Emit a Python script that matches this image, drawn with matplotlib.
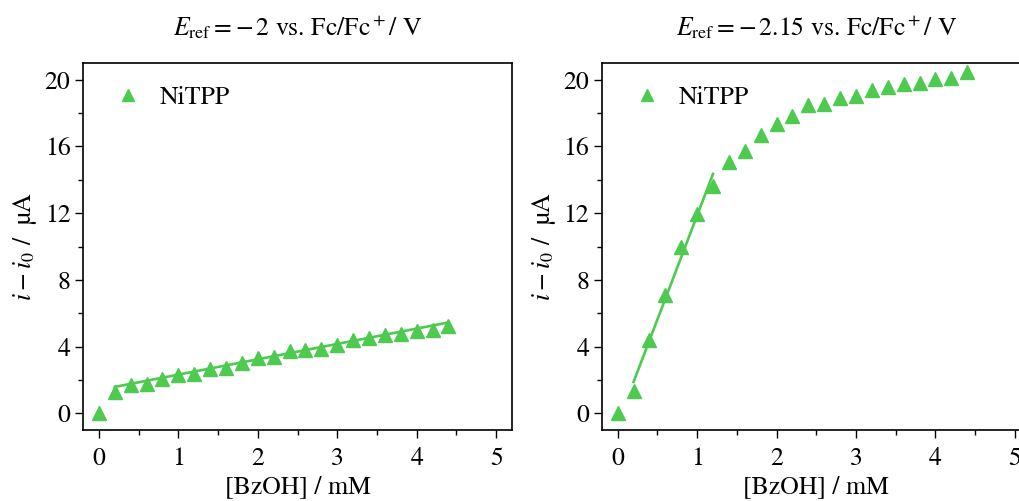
import numpy as np
import matplotlib
matplotlib.use("Agg")
import matplotlib.pyplot as plt
from matplotlib.ticker import MultipleLocator

plt.rcParams["font.family"] = ["STIXGeneral", "Liberation Serif", "DejaVu Serif"]
plt.rcParams["mathtext.fontset"] = "stix"

# [BzOH] / mM
conc = [0.0, 0.2, 0.4, 0.6, 0.8, 1.0, 1.2, 1.4, 1.6, 1.8, 2.0, 2.2,
        2.4, 2.6, 2.8, 3.0, 3.2, 3.4, 3.6, 3.8, 4.0, 4.2, 4.4]

# i - i0 / uA at E_ref = -2 V
current_a = [0.0, 1.28, 1.72, 1.74, 2.08, 2.28, 2.38, 2.68, 2.70, 3.04,
             3.31, 3.37, 3.73, 3.77, 3.83, 4.11, 4.37, 4.51, 4.67, 4.77,
             4.93, 4.97, 5.23]

# i - i0 / uA at E_ref = -2.15 V
current_b = [0.0, 1.32, 4.41, 7.10, 9.96, 11.96, 13.65, 15.05, 15.75, 16.70,
             17.35, 17.80, 18.48, 18.54, 18.90, 19.00, 19.40, 19.54, 19.74,
             19.80, 20.04, 20.10, 20.44]

# linear fits: (slope, intercept, x_start, x_end)
fit_a = (0.92, 1.40, 0.2, 4.4)
fit_b = (12.47, -0.61, 0.2, 1.2)

titles = [r"$E_{\rm ref} = -\,2$ vs. Fc/Fc$^+$/ V",
          r"$E_{\rm ref} = -\,2.15$ vs. Fc/Fc$^+$/ V"]

green = "#4dca4f"
fs = 18.5

fig = plt.figure(figsize=(10.2, 5.01), dpi=100)
ax1 = fig.add_axes((0.0814, 0.1417, 0.4206, 0.7325))
ax2 = fig.add_axes((0.590, 0.1417, 0.4206, 0.7325))

for ax, y, fit, title in zip((ax1, ax2), (current_a, current_b),
                             (fit_a, fit_b), titles):
    ax.plot(conc, y, linestyle="none", marker="^", markersize=9.5,
            color=green, label="NiTPP")
    xf = np.array([fit[2], fit[3]])
    ax.plot(xf, fit[0] * xf + fit[1], color=green, linewidth=1.9)

    ax.set_xlim(-0.2, 5.2)
    ax.set_ylim(-1, 21)
    ax.xaxis.set_major_locator(MultipleLocator(1))
    ax.xaxis.set_minor_locator(MultipleLocator(0.5))
    ax.yaxis.set_major_locator(MultipleLocator(4))
    ax.yaxis.set_minor_locator(MultipleLocator(2))
    ax.tick_params(which="both", direction="out", top=False, right=False,
                   labelsize=fs)
    ax.tick_params(axis="x", pad=6)
    ax.tick_params(axis="y", pad=3)
    ax.tick_params(which="major", length=6, width=1)
    ax.tick_params(which="minor", length=3.5, width=1)
    for s in ax.spines.values():
        s.set_linewidth(1.2)

    ax.set_xlabel("[BzOH] / mM", fontsize=fs, labelpad=3)
    ax.set_ylabel(r"$i - i_0$ /  µA", fontsize=fs, labelpad=4)
    ax.set_title(title, fontsize=fs, pad=20)
    ax.legend(loc="upper left", frameon=False, fontsize=fs, markerscale=0.85,
              handletextpad=0.4, borderaxespad=0.6, handlelength=1.7,
              borderpad=0.3)

fig.savefig("out.png", dpi=100)
